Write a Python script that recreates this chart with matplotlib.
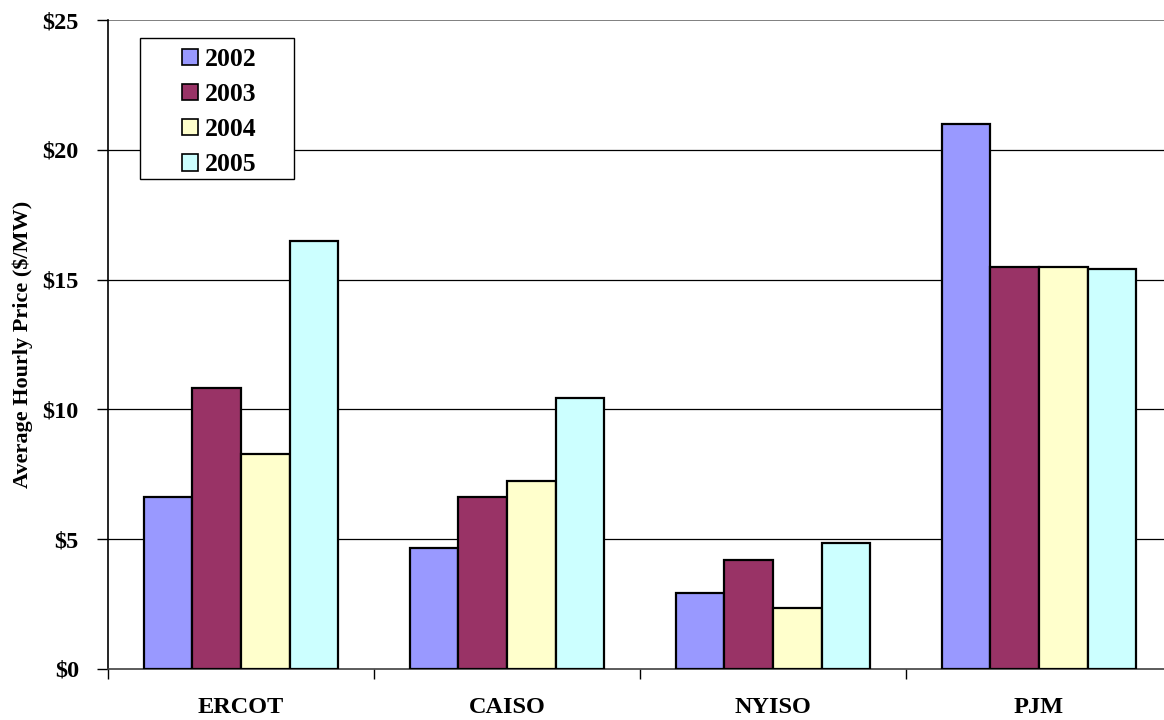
import matplotlib
matplotlib.use("Agg")
import matplotlib.pyplot as plt
from matplotlib.patches import Rectangle
from matplotlib.ticker import FixedLocator, FuncFormatter
import numpy as np

# Average hourly price by ISO and year
regions = ["ERCOT", "CAISO", "NYISO", "PJM"]
years = ["2002", "2003", "2004", "2005"]
price_2002 = [6.62, 4.67, 2.93, 21.01]
price_2003 = [10.84, 6.62, 4.21, 15.49]
price_2004 = [8.27, 7.24, 2.36, 15.49]
price_2005 = [16.50, 10.43, 4.86, 15.42]
series = [price_2002, price_2003, price_2004, price_2005]
colors = ["#9999FF", "#993366", "#FFFFCC", "#CCFFFF"]
y_ticks = [0, 5, 10, 15, 20, 25]

plt.rcParams["font.family"] = ["Liberation Serif", "DejaVu Serif"]
plt.rcParams["font.weight"] = "bold"

W, H = 1164, 720
fig = plt.figure(figsize=(W / 100, H / 100), dpi=100)
ax = fig.add_axes([108 / W, 51 / H, 1064 / W, 649 / H])

x = np.arange(len(regions))
bw = 0.1825
for i, (vals, col, yr) in enumerate(zip(series, colors, years)):
    ax.bar(x + (i - 1.5) * bw, vals, width=bw, color=col, edgecolor="black",
           linewidth=1.6, label=yr, zorder=3)

ax.set_xlim(-0.5, len(regions) - 0.5)
ax.set_ylim(0, 25)

# horizontal gridlines
for v in y_ticks[1:-1]:
    ax.axhline(v, color="black", linewidth=0.9, zorder=1)
ax.axhline(25, color="#808080", linewidth=1.4, zorder=1)

for s in ["top", "right"]:
    ax.spines[s].set_visible(False)
ax.spines["left"].set_linewidth(1.2)
ax.spines["bottom"].set_linewidth(1.2)
ax.spines["bottom"].set_color("#404040")

ax.yaxis.set_major_locator(FixedLocator(y_ticks))
ax.yaxis.set_major_formatter(FuncFormatter(lambda v, p: "$%d" % v))
ax.tick_params(axis="y", direction="out", length=8, width=1.0, labelsize=17.5, pad=13)

ax.xaxis.set_major_locator(FixedLocator(np.arange(-0.5, len(regions), 1.0)))
ax.xaxis.set_major_formatter(FuncFormatter(lambda v, p: ""))
ax.xaxis.set_minor_locator(FixedLocator(x))
ax.set_xticklabels(regions, minor=True)
ax.tick_params(axis="x", which="major", direction="out", length=7, width=1.0)
ax.tick_params(axis="x", which="minor", length=0, labelsize=17.5, pad=20)

for lbl in ax.get_yticklabels() + ax.get_xticklabels(minor=True):
    lbl.set_fontweight("bold")

ax.set_ylabel("Average Hourly Price ($/MW)", fontsize=16, fontweight="bold", labelpad=7)

# legend box drawn as a plain rectangle, entries on top of it
box = Rectangle((140 / W, 1 - 179 / H), 154 / W, 141 / H, transform=fig.transFigure,
                facecolor="white", edgecolor="black", linewidth=1.0, zorder=5,
                clip_on=False)
ax.add_patch(box)
leg = ax.legend(loc="upper left", bbox_to_anchor=(182 / W, 1 - 48 / H),
                bbox_transform=fig.transFigure, borderaxespad=0, borderpad=0,
                prop={"size": 18.5, "weight": "bold"}, frameon=False,
                handlelength=0.62, handleheight=0.62,
                handletextpad=0.28, labelspacing=0.47)
for h in leg.legend_handles:
    h.set_linewidth(1.2)
leg.set_zorder(6)

fig.savefig("out.png", dpi=100)
